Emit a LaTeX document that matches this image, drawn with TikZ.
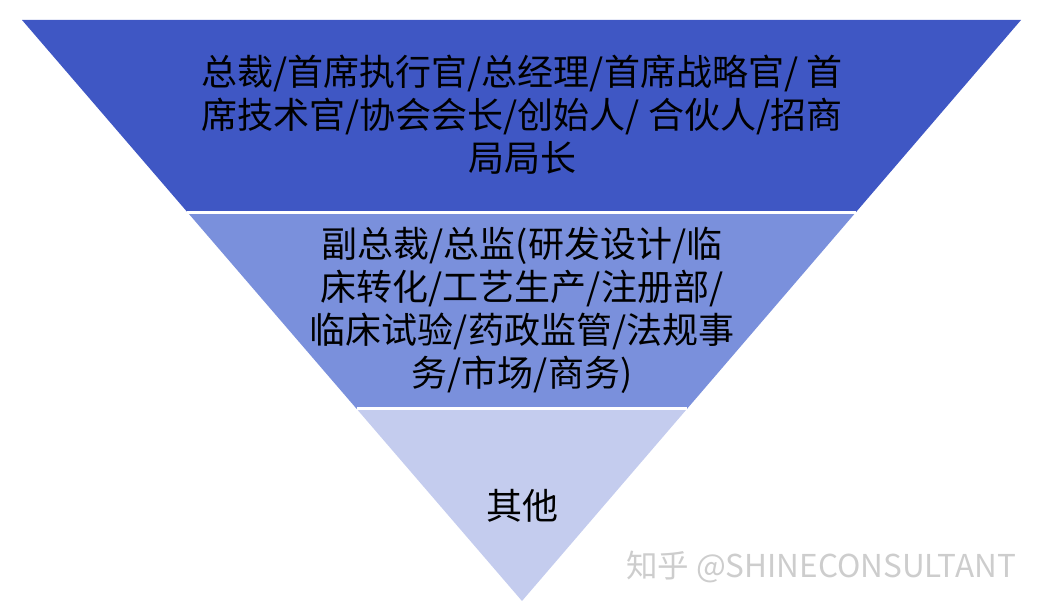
\documentclass[tikz,border=0pt]{standalone}
\usepackage{fontspec}
\setmainfont{Noto Sans CJK SC}
\usetikzlibrary{calc}

\definecolor{tierone}{RGB}{63,87,196}
\definecolor{tiertwo}{RGB}{122,144,220}
\definecolor{tierthree}{RGB}{196,204,238}
\definecolor{markgray}{RGB}{205,205,205}

\begin{document}
\begin{tikzpicture}[x=1pt,y=-1pt,
    sep/.style={draw=white, line width=3pt},
    tiertext/.style={align=center, font=\fontsize{36}{43}\selectfont, inner sep=0pt}
]
\useasboundingbox (0,0) rectangle (1042,610);
\coordinate (tl) at (22,20);
\coordinate (tr) at (1021,20);
\coordinate (apex) at (522,601);
\coordinate (l1) at ($(tl)!0.3305!(apex)$);
\coordinate (r1) at ($(tr)!0.3305!(apex)$);
\coordinate (l2) at ($(tl)!0.6695!(apex)$);
\coordinate (r2) at ($(tr)!0.6695!(apex)$);
% the three tiers
\fill[tierone] (tl) -- (tr) -- (r1) -- (l1) -- cycle;
\fill[tiertwo] (l1) -- (r1) -- (r2) -- (l2) -- cycle;
\fill[tierthree] (l2) -- (r2) -- (apex) -- cycle;
\draw[sep] (l1) -- (r1);
\draw[sep] (l2) -- (r2);
% texts
\node[tiertext] (top) at (522,115) {总裁/首席执行官/总经理/首席战略官/ 首\\席技术官/协会会长/创始人/ 合伙人/招商\\局局长};
\node[tiertext] (mid) at (522,310) {副总裁/总监(研发设计/临\\床转化/工艺生产/注册部/\\临床试验/药政监管/法规事\\务/市场/商务)};
\node[tiertext] (low) at (522,506) {其他};
\node[font=\fontsize{31.5}{33}\selectfont, text=markgray, inner sep=0pt] (mark) at (821,567) {知乎 @SHINECONSULTANT};
\end{tikzpicture}
\end{document}
